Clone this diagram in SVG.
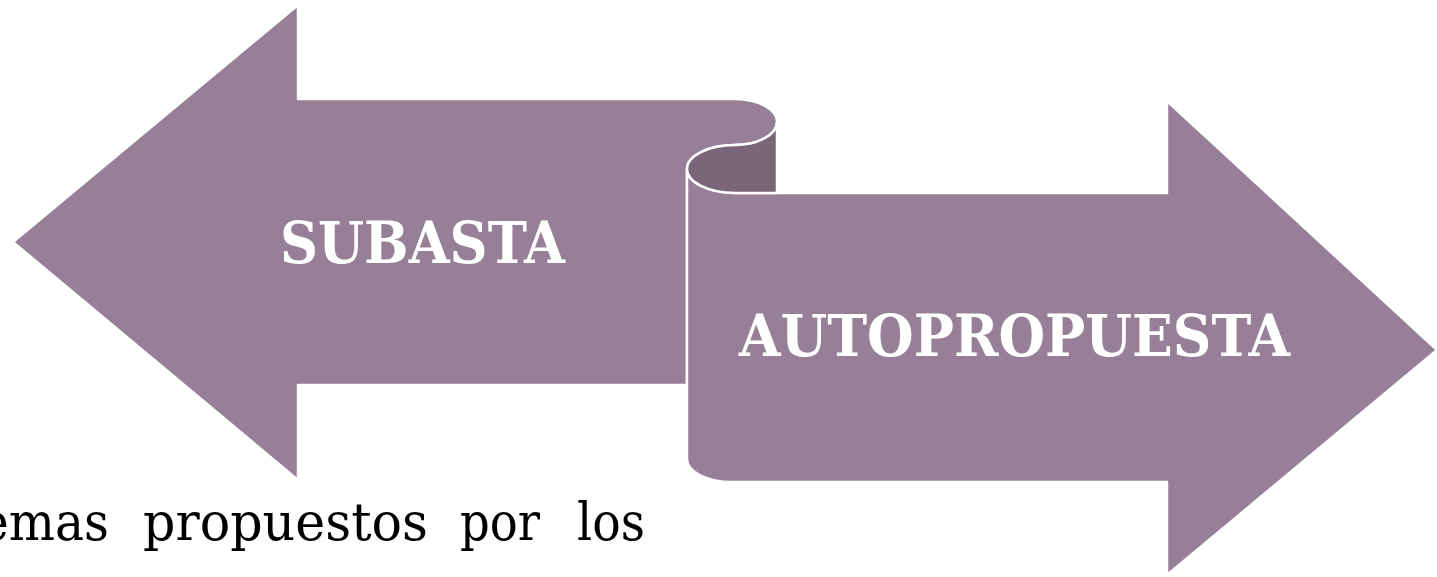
<svg xmlns="http://www.w3.org/2000/svg" width="1437" height="577" viewBox="0 0 1437 577">
  <style>
    .shape { fill: #967F97; stroke: #FFFFFF; stroke-width: 2.5; stroke-linejoin: round; }
    .curl { fill: #7B6579; stroke: #FFFFFF; stroke-width: 2.5; stroke-linejoin: round; }
    .label { font-family: "DejaVu Serif", "Liberation Serif", serif; font-weight: bold; font-size: 58px; fill: #FFFFFF; }
    .body { font-family: "DejaVu Serif", "Liberation Serif", serif; font-size: 53px; fill: #000000; }
  </style>
  <rect width="1437" height="577" fill="#FFFFFF"/>
  <g id="node-subasta">
    <path class="shape" d="M13,242 L298,5 L298,99 L735,99 A42,23 0 0 1 735,145 A48,24 0 0 0 687,169 L687,385 L298,385 L298,480 Z"/>
    <text class="label" x="280" y="263" textLength="285" lengthAdjust="spacingAndGlyphs">SUBASTA</text>
  </g>
  <g id="node-autopropuesta">
    <path class="shape" d="M687,169 A48,24 0 0 0 735,193 L1167,193 L1167,101 L1437,350 L1167,575 L1167,482 L732,482 A45,23 0 0 1 687,459 Z"/>
    <path class="curl" d="M777,122 L777,193 L735,193 A48,24 0 0 1 687,169 A48,24 0 0 1 735,145 A42,23 0 0 0 777,122 Z"/>
    <text class="label" x="739" y="356" textLength="551" lengthAdjust="spacingAndGlyphs">AUTOPROPUESTA</text>
  </g>
  <g id="body-text">
    <text class="body" x="-20" y="540" textLength="129" lengthAdjust="spacingAndGlyphs">emas</text>
    <text class="body" x="143" y="540" textLength="285" lengthAdjust="spacingAndGlyphs">propuestos</text>
    <text class="body" x="460" y="540" textLength="80" lengthAdjust="spacingAndGlyphs">por</text>
    <text class="body" x="577" y="540" textLength="68" lengthAdjust="spacingAndGlyphs">los</text>
  </g>
</svg>
